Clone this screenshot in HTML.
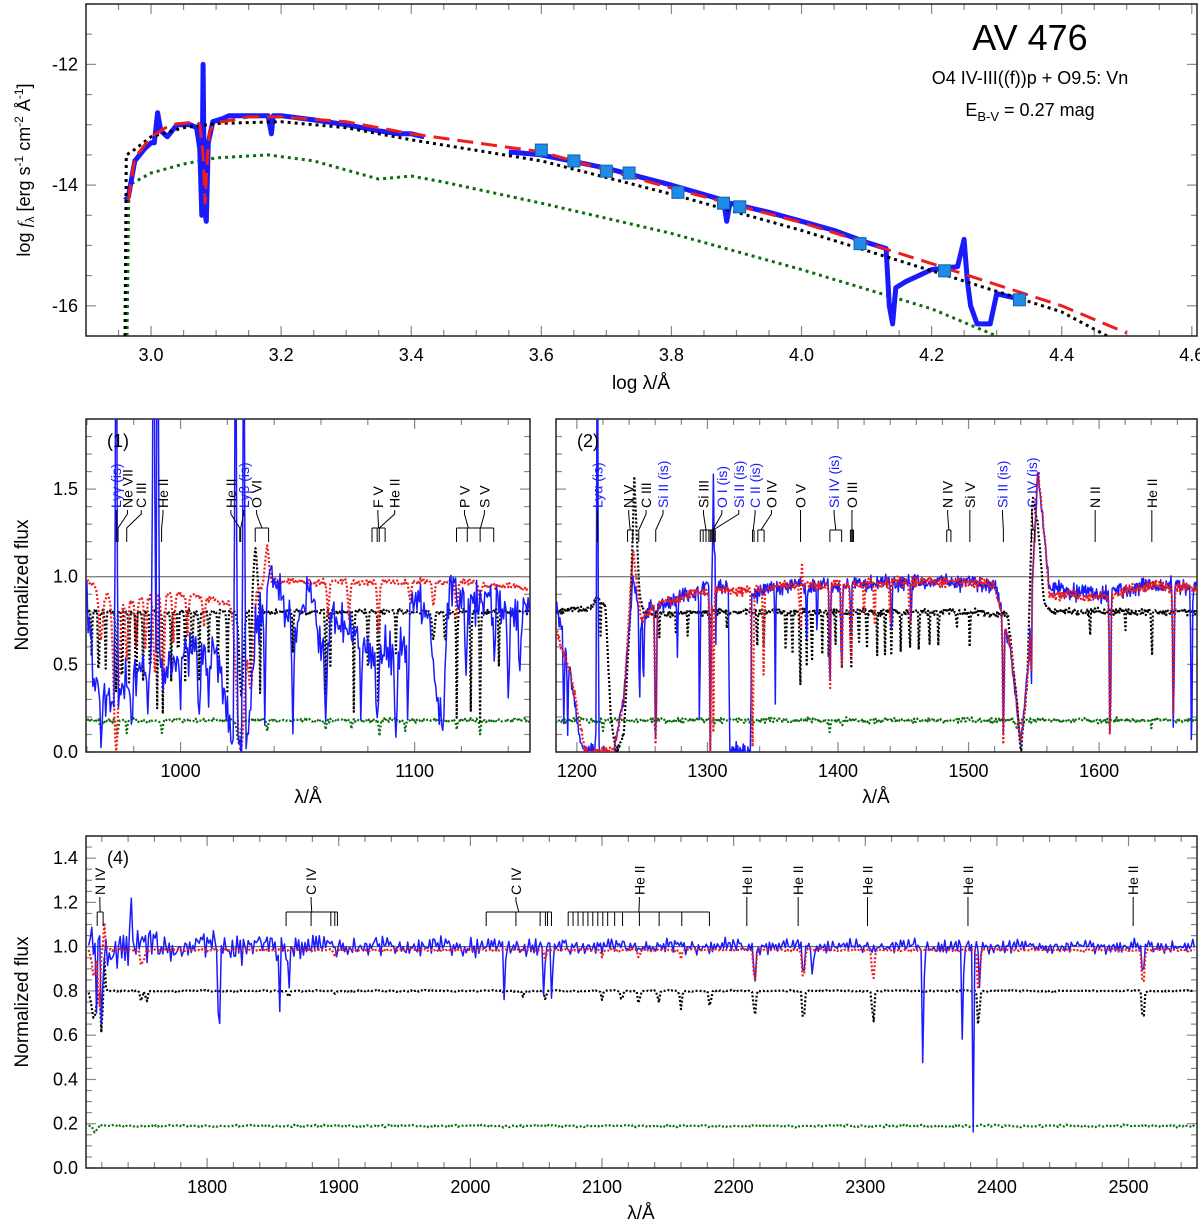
<!DOCTYPE html>
<html><head><meta charset="utf-8"><style>
html,body{margin:0;padding:0;background:#fff;}
svg{display:block;font-family:"Liberation Sans",sans-serif;}
</style></head><body>
<svg id="fig" width="1200" height="1225" viewBox="0 0 1200 1225" xmlns="http://www.w3.org/2000/svg">
<defs>
<clipPath id="c0"><rect x="86" y="4" width="1111" height="332"/></clipPath>
<clipPath id="c1"><rect x="86" y="419" width="444" height="333"/></clipPath>
<clipPath id="c2"><rect x="556" y="419" width="641" height="333"/></clipPath>
<clipPath id="c4"><rect x="86" y="836" width="1111" height="332"/></clipPath>
</defs>
<g id="plotroot"></g>
<text x="1030" y="50" font-size="36" text-anchor="middle">AV 476</text>
<text x="1030" y="84" font-size="18" text-anchor="middle">O4 IV-III((f))p + O9.5: Vn</text>
<text x="1030" y="116" font-size="18" text-anchor="middle">E<tspan font-size="13" dy="5">B-V</tspan><tspan dy="-5"> = 0.27 mag</tspan></text>
<text transform="translate(30,170) rotate(-90)" font-size="18" text-anchor="middle">log <tspan font-style="italic" font-family="Liberation Serif">f</tspan><tspan font-size="12" dy="4">λ</tspan><tspan dy="-4"> [erg s</tspan><tspan font-size="12" dy="-7">-1</tspan><tspan dy="7"> cm</tspan><tspan font-size="12" dy="-7">-2</tspan><tspan dy="7"> Å</tspan><tspan font-size="12" dy="-7">-1</tspan><tspan dy="7">]</tspan></text>
<text x="641" y="389" font-size="19" text-anchor="middle">log λ/Å</text>
<text transform="translate(28,585) rotate(-90)" font-size="19" text-anchor="middle">Normalized flux</text>
<text x="308" y="803" font-size="19" text-anchor="middle">λ/Å</text>
<text x="876" y="803" font-size="19" text-anchor="middle">λ/Å</text>
<text transform="translate(28,1002) rotate(-90)" font-size="19" text-anchor="middle">Normalized flux</text>
<text x="641" y="1219" font-size="19" text-anchor="middle">λ/Å</text>
<text x="107" y="447" font-size="18">(1)</text>
<text x="577" y="447" font-size="18">(2)</text>
<text x="107" y="864" font-size="18">(4)</text>
</svg>
<script>
// ---------- SED panel data ----------
var sedObsUV_x=[2.96,2.965,2.975,2.99,3.0,3.005,3.01,3.015,3.025,3.04,3.06,3.07,3.075,3.078,3.08,3.082,3.085,3.088,3.095,3.11,3.12,3.15,3.18,3.185,3.188,3.2,3.25,3.3,3.35,3.38,3.4,3.42];
var sedObsUV_y=[-14.25,-14.2,-13.6,-13.4,-13.3,-13.3,-12.8,-13.1,-13.2,-13.0,-13.0,-13.05,-13.4,-14.5,-12.0,-14.4,-14.6,-13.3,-12.95,-12.9,-12.85,-12.85,-12.85,-13.15,-12.85,-12.85,-12.92,-13.0,-13.1,-13.15,-13.15,-13.2];
var sedObsOpt_x=[3.55,3.6,3.7,3.8,3.88,3.885,3.89,3.95,4.0,4.05,4.1,4.13,4.135,4.14,4.145,4.16,4.2,4.24,4.25,4.255,4.26,4.27,4.29,4.3,4.32,4.345];
var sedObsOpt_y=[-13.45,-13.5,-13.72,-14.0,-14.25,-14.6,-14.3,-14.45,-14.6,-14.75,-14.95,-15.05,-16.0,-16.3,-15.7,-15.6,-15.4,-15.35,-14.9,-15.6,-16.0,-16.3,-16.3,-15.8,-15.85,-15.9];
var sedModel_x=[2.965,2.975,3.0,3.03,3.07,3.075,3.08,3.083,3.087,3.09,3.1,3.15,3.2,3.3,3.4,3.6,3.8,4.0,4.2,4.4,4.5];
var sedModel_y=[-14.25,-13.55,-13.2,-13.0,-12.95,-13.0,-13.5,-14.3,-13.5,-13.1,-12.97,-12.87,-12.87,-12.95,-13.15,-13.45,-14.05,-14.62,-15.3,-16.0,-16.45];
var sedPrim_x=[2.96,2.962,2.97,3.0,3.05,3.1,3.2,3.3,3.4,3.6,3.8,4.0,4.2,4.4,4.47];
var sedPrim_y=[-16.5,-13.5,-13.45,-13.2,-13.05,-12.98,-12.95,-13.05,-13.25,-13.6,-14.15,-14.75,-15.42,-16.1,-16.5];
var sedSec_x=[2.963,2.966,3.0,3.05,3.1,3.18,3.25,3.3,3.35,3.4,3.45,3.6,3.8,4.0,4.2,4.3];
var sedSec_y=[-16.5,-14.0,-13.8,-13.65,-13.55,-13.5,-13.6,-13.75,-13.9,-13.85,-13.95,-14.3,-14.8,-15.4,-16.05,-16.5];
var photX=[3.60,3.65,3.70,3.735,3.81,3.88,3.905,4.09,4.22,4.335];
var photY=[-13.42,-13.6,-13.77,-13.8,-14.12,-14.3,-14.36,-14.97,-15.42,-15.9];

// ---------- shared noise patterns ----------
var noisePattern=[0.3,-0.8,0.5,-0.2,0.9,-0.6,0.1,-0.9,0.7,-0.4,0.2,0.6,-0.7,0.4,-0.1,0.8,-0.5,0.0,-0.3,0.6,-0.9,0.5,0.2,-0.6,0.9,-0.2,0.3,-0.8,0.7,-0.4,0.1,0.5,-0.7,0.8,-0.1,-0.5,0.4,-0.3,0.6,-0.9,0.2,0.7,-0.6,0.3,-0.2,0.9,-0.8,0.1,0.5,-0.4,0.6,-0.1,-0.7,0.8,-0.3,0.4,-0.5,0.2,0.0,-0.6];
var noisePattern2=[0.5,0.1,-0.4,-0.7,0.2,0.8,-0.1,-0.5,0.6,0.3,-0.9,0.0,0.4,-0.3,0.7,-0.6,-0.2,0.9,0.1,-0.8,0.3,0.5,-0.4,0.2,-0.1,0.6,-0.7,1.0,-0.3,-0.5,0.4,0.0,-0.2,0.7,-0.9,0.2,0.3];

// ---------- Panel 1 ----------
var p1BlueCont=[[960,0.9],[963,0.4],[968,0.25],[975,0.4],[985,0.45],[995,0.5],[1005,0.55],[1015,0.6],[1019,0.3],[1022,0.0],[1028,0.0],[1032,0.7],[1038,1.0],[1045,0.8],[1050,0.75],[1055,0.95],[1060,0.55],[1065,0.8],[1072,0.7],[1080,0.55],[1088,0.6],[1095,0.55],[1100,0.9],[1106,0.8],[1110,0.25],[1115,0.9],[1130,0.85],[1145,0.8],[1150,0.85]];
var p1BlueLines=[[966,0.8,0.7],[979,0.6,0.6],[986,0.5,0.6],[1000,0.4,0.5],[1008,0.6,0.6],[1012,0.5,0.5],[1036,0.8,0.5],[1048,0.7,0.6],[1062,0.9,0.6],[1077,0.7,0.5],[1084,0.8,0.6],[1092,0.9,0.7],[1097,0.8,0.5],[1112,0.9,1.0],[1122,0.5,0.5],[1134,0.5,0.5],[1140,0.6,0.5],[1145,0.5,0.5]];
var p1BlueEmis=[[972.5,3,0.4],[988.5,3,0.5],[990.2,3,0.4],[1023.5,3,0.5],[1027.0,3,0.5]];
var p1RedCont=[[960,0.98],[975,0.85],[990,0.9],[1005,0.9],[1018,0.85],[1040,0.97],[1080,0.97],[1120,0.97],[1150,0.93]];
var p1RedLines=[[966,0.3,1.2],[972.5,1.0,1.5],[977,0.4,0.7],[981,0.3,0.6],[985,0.35,0.6],[989,0.5,0.8],[992.5,0.6,0.8],[997,0.3,0.6],[1003,0.25,0.6],[1010,0.2,0.6],[1025.7,1.0,2.5],[1030,0.6,1.5],[1063,0.2,0.6],[1072,0.2,0.6],[1084.5,0.3,0.6],[1098,0.1,0.6],[1108,0.15,0.6],[1118,0.2,0.6],[1128,0.1,0.6]];
var p1RedEmis=[[1037,0.22,1.2]];
var p1BlackLines=[[962,0.3,0.3],[965,0.6,0.3],[968,0.4,0.3],[972.5,0.6,0.4],[975,0.7,0.3],[978,0.5,0.3],[981,0.7,0.3],[984,0.5,0.3],[987,0.6,0.3],[990,0.7,0.3],[992.5,0.8,0.3],[996,0.5,0.3],[999,0.4,0.3],[1002,0.5,0.3],[1005,0.4,0.3],[1008,0.5,0.3],[1012,0.3,0.3],[1016,0.4,0.3],[1020,0.6,0.3],[1026,0.6,1.2],[1030,0.5,0.4],[1034,0.6,0.3],[1048,0.3,0.3],[1062,0.6,0.3],[1064,0.4,0.3],[1074,0.7,0.3],[1080,0.4,0.3],[1084.5,0.7,0.3],[1092,0.3,0.3],[1108,0.2,0.8],[1113,0.3,0.3],[1118,0.75,0.3],[1124,0.7,0.3],[1128,0.8,0.3],[1136,0.4,0.3]];
var p1BlackEmis=[[1032,0.35,1.2]];
var p1GreenLines=[[966,0.3,0.5],[973,0.5,0.5],[977,0.4,0.4],[992,0.4,0.5],[1025,0.8,1.0],[1037,0.3,0.5],[1062,0.3,0.4],[1073,0.3,0.4],[1085,0.5,0.4],[1096,0.3,0.4],[1118,0.3,0.4],[1128,0.5,0.4]];

// ---------- Panel 2 ----------
var p2BlueCont=[[1184,0.85],[1195,0.45],[1203,0.05],[1208,0.0],[1228,0.0],[1236,0.3],[1243,1.0],[1250,0.75],[1258,0.83],[1280,0.88],[1300,0.95],[1316,0.95],[1317,0.0],[1333,0.0],[1334,0.9],[1360,0.95],[1400,0.95],[1450,0.97],[1500,0.97],[1520,0.95],[1532,0.6],[1540,0.05],[1546,0.5],[1553,1.6],[1556,1.4],[1562,0.93],[1600,0.9],[1640,0.95],[1660,0.95],[1675,0.95]];
var p2BlueLines=[[1190,0.8,0.6],[1193,0.8,0.6],[1248,0.7,0.6],[1251,0.5,0.6],[1260.4,1.0,0.8],[1277,0.4,0.5],[1294,0.9,0.5],[1302.2,1.0,0.6],[1306,0.8,0.5],[1352,0.7,0.4],[1376,0.3,0.6],[1384,0.3,0.5],[1393.8,0.7,0.6],[1402.8,0.55,0.6],[1410,0.3,0.6],[1441,0.3,0.6],[1456,0.3,0.5],[1526.7,0.9,0.7],[1548,0.7,0.4],[1608.4,0.95,0.7],[1656.9,0.9,0.7],[1670.8,1.0,0.7]];
var p2BlueEmis=[[1215.7,3,0.6],[1304.5,0.6,0.6],[1305.8,0.8,0.4]];
var p2RedCont=[[1184,0.7],[1195,0.45],[1205,0.05],[1208,0.0],[1228,0.0],[1236,0.3],[1243,1.15],[1249,0.75],[1258,0.83],[1280,0.88],[1300,0.92],[1333,0.92],[1360,0.95],[1400,0.95],[1450,0.97],[1500,0.97],[1520,0.95],[1532,0.6],[1540,0.05],[1546,0.5],[1553,1.6],[1556,1.4],[1562,0.9],[1600,0.88],[1640,0.95],[1675,0.93]];
var p2RedLines=[[1260.4,1.0,0.8],[1302.2,1.0,0.7],[1304.5,0.9,0.6],[1334.5,1.0,0.9],[1343,0.5,0.6],[1371.3,0.3,0.8],[1393.8,0.7,0.6],[1402.8,0.55,0.6],[1410,0.45,0.8],[1420,0.2,0.6],[1428,0.25,0.6],[1440,0.25,0.6],[1455,0.25,0.6],[1526.7,0.95,0.7],[1548,0.6,0.4],[1608.4,0.95,0.7],[1656.9,0.8,0.7]];
var p2RedEmis=[[1372,0.25,0.6]];
var p2BlackCont=[[1184,0.8],[1210,0.82],[1216,0.88],[1222,0.82],[1226,0.2],[1230,0.0],[1236,0.1],[1241,0.8],[1244,1.55],[1248,0.9],[1252,0.78],[1300,0.8],[1400,0.8],[1500,0.8],[1530,0.78],[1537,0.3],[1540,0.0],[1545,0.4],[1549,1.45],[1553,1.3],[1558,0.85],[1564,0.8],[1675,0.8]];
var p2BlackLines=[[1218,0.3,0.4],[1263,0.2,0.4],[1276,0.15,0.4],[1285,0.2,0.4],[1302,0.15,0.5],[1315,0.15,0.4],[1338,0.3,0.4],[1343,0.25,0.4],[1360,0.35,0.4],[1365,0.4,0.4],[1371,0.6,0.5],[1376,0.4,0.4],[1380,0.45,0.4],[1388,0.3,0.4],[1393,0.4,0.4],[1398,0.3,0.4],[1403,0.4,0.4],[1410,0.5,0.4],[1416,0.3,0.4],[1422,0.35,0.4],[1430,0.3,0.4],[1436,0.3,0.4],[1441,0.4,0.4],[1448,0.3,0.4],[1455,0.35,0.4],[1462,0.35,0.4],[1470,0.3,0.4],[1477,0.3,0.4],[1491,0.15,0.4],[1501,0.3,0.4],[1593,0.2,0.4],[1620,0.15,0.4],[1640.4,0.35,0.5]];
var p2GreenLines=[[1220,0.3,0.6],[1260,0.3,0.4],[1393.8,0.4,0.5],[1402.8,0.3,0.5],[1537,0.3,0.8],[1640,0.2,0.5]];

// ---------- Panel 4 ----------
var p4BlueLines=[[1716,0.3,0.8],[1720,0.5,0.8],[1725,0.15,0.8],[1809,0.65,0.7],[1855,0.3,0.7],[1862,0.22,0.7],[2026,0.35,0.7],[2056,0.3,0.7],[2062,0.35,0.7],[2216,0.2,0.8],[2253,0.15,0.8],[2260,0.15,0.8],[2344,0.83,0.6],[2374,0.7,0.6],[2382,0.86,0.6],[2387,0.2,0.6],[2511,0.2,0.8]];
var p4BlueEmis=[[1742,0.35,0.6],[1719,0.1,1.0]];
var p4BlueNoise=[[1708,0.09],[1800,0.08],[1900,0.05],[2100,0.035],[2552,0.03]];
var p4RedLines=[[1714,0.12,2],[1718,0.3,1.0],[1750,0.08,1.0],[1752,0.05,1.0],[1897,0.03,1.0],[2057,0.04,1.0],[2100,0.03,1.0],[2128,0.04,1.0],[2160,0.04,1.0],[2216,0.16,1.2],[2253,0.15,1.2],[2306,0.15,1.2],[2386,0.2,1.2],[2511,0.18,1.2]];
var p4RedEmis=[[1722,0.12,0.8]];
var p4BlackLines=[[1714,0.15,2.5],[1720,0.3,0.8],[1750,0.07,1.0],[1754,0.07,1.0],[1862,0.04,1.0],[1897,0.02,1.0],[2040,0.03,1.0],[2057,0.05,1.0],[2100,0.05,1.0],[2115,0.06,1.0],[2128,0.08,1.0],[2143,0.07,1.0],[2160,0.1,1.0],[2182,0.1,1.0],[2216,0.16,1.0],[2253,0.2,1.0],[2306,0.2,1.0],[2386,0.22,1.0],[2511,0.2,1.0]];
var p4BlackEmis=[[1722,0.15,0.8]];
var p4GreenLines=[[1715,0.15,2]];

// ---------- line identifications ----------
var p1Ids=[["Lyγ (is)",972.5,[972.5],"#1a1aff"],["Ne VII",977.3,[973.3],"#000"],["C III",983.2,[977.0],"#000"],["He II",992.5,[991.9],"#000"],["He II",1021.5,[1025.3],"#000"],["Lyβ (is)",1027.0,[1025.7],"#1a1aff"],["O VI",1032.5,[1031.9,1037.6],"#000"],["F V",1084.3,[1081.8,1084.0,1087.4],"#000"],["He II",1091.5,[1084.9],"#000"],["P V",1121.3,[1117.9,1128.0],"#000"],["S V",1129.8,[1122.5,1133.8],"#000"]];
var p2Ids=[["Lyα (is)",1215.7,[1215.7],"#1a1aff"],["N V",1239.7,[1238.8,1242.8],"#000"],["C III",1253,[1247.4],"#000"],["Si II (is)",1266,[1260.4],"#1a1aff"],["Si III",1297,[1294.5,1296.7,1298.9,1301.1,1303.3],"#000"],["O I (is)",1311,[1302.2,1304.9,1306.0],"#1a1aff"],["Si II (is)",1324,[1304.4],"#1a1aff"],["C II (is)",1336.5,[1334.5,1335.7],"#1a1aff"],["O IV",1349,[1338.6,1343.4],"#000"],["O V",1371.3,[1371.3],"#000"],["Si IV (is)",1397,[1393.8,1402.8],"#1a1aff"],["O III",1410.7,[1409.5,1410.5,1411.0,1411.9],"#000"],["N IV",1484,[1483.3,1486.5],"#000"],["Si V",1501,[1501],"#000"],["Si II (is)",1526,[1526.7],"#1a1aff"],["C IV (is)",1548.5,[1548.2,1550.8],"#1a1aff"],["N II",1597,[1597],"#000"],["He II",1640.4,[1640.4],"#000"]];
var p4Ids=[["N IV",1718.5,[1716.5,1721],"#000"],["C IV",1879,[1860,1879,1894,1897,1899],"#000"],["C IV",2034.6,[2012,2034.6,2053,2057,2058.6,2061.6],"#000"],["He II",2128.4,[2074.3,2078,2081.8,2085.6,2089.3,2093,2096.8,2100.6,2104.3,2109.6,2115.6,2128.4,2143.4,2160.6,2181.6],"#000"],["He II",2210,[2210],"#000"],["He II",2249,[2249],"#000"],["He II",2301.7,[2301.7],"#000"],["He II",2378,[2378],"#000"],["He II",2503.5,[2503.5],"#000"]];

// ---------- rendering ----------
var SVGNS="http://www.w3.org/2000/svg";
var plotRoot=document.getElementById('plotroot');
function mk(tag,attrs,parent){var e=document.createElementNS(SVGNS,tag);for(var k in attrs){e.setAttribute(k,String(attrs[k]));}(parent||plotRoot).appendChild(e);return e;}
function makePanel(x0,x1,y0,y1,xmin,xmax,ymin,ymax){
  var P={x0:x0,x1:x1,y0:y0,y1:y1,xmin:xmin,xmax:xmax,ymin:ymin,ymax:ymax};
  P.sx=function(v){return x0+(v-xmin)/(xmax-xmin)*(x1-x0);};
  P.sy=function(v){return y1-(v-ymin)/(ymax-ymin)*(y1-y0);};
  return P;
}
var P0=makePanel(86,1197,4,336,2.9,4.608,-16.5,-11);
var P1=makePanel(86,530,419,752,959.6,1149.3,0,1.9);
var P2=makePanel(556,1197,419,752,1184,1675,0,1.9);
var P4=makePanel(86,1197,836,1168,1708,2552,0,1.5);

function interpK(knots,l){if(l<=knots[0][0])return knots[0][1];for(var i=1;i<knots.length;i++){if(l<=knots[i][0]){var a=knots[i-1],b=knots[i];return a[1]+(b[1]-a[1])*(l-a[0])/(b[0]-a[0]);}}return knots[knots.length-1][1];}
function spectrum(lmin,lmax,step,cont,lines,emis,namp,off){
  var xs=[],ys=[],i=0;
  for(var l=lmin;l<=lmax;l+=step,i++){
    var f=(typeof cont==='number')?cont:interpK(cont,l);
    for(var j=0;j<lines.length;j++){var c=lines[j][0],d=lines[j][1],w=lines[j][2];f*=1-d*Math.exp(-Math.pow((l-c)/w,2));}
    for(var k=0;k<emis.length;k++){var c2=emis[k][0],e2=emis[k][1],w2=emis[k][2];f+=e2*Math.exp(-Math.pow((l-c2)/w2,2));}
    var a=(typeof namp==='number')?namp:interpK(namp,l);
    f+=a*0.5*(noisePattern[(i+off)%noisePattern.length]+noisePattern2[(i*3+off)%noisePattern2.length])*1.3;
    xs.push(l);ys.push(f);
  }
  return [xs,ys];
}
function drawPath(P,xs,ys,style,clip,nm){
  var d='';
  for(var i=0;i<xs.length;i++){d+=(i?'L':'M')+P.sx(xs[i]).toFixed(1)+','+P.sy(ys[i]).toFixed(1);}
  var attrs={d:d,fill:'none','clip-path':'url(#'+clip+')','stroke-linejoin':'round'};
  for(var k in style){attrs[k]=style[k];}
  var e=mk('path',attrs);
  
  
  return e;
}
function drawAxes(P,xMajor,xMinor,yMajor,yMinor,xDec,yDec,showY,nm,gridY){
  var g=mk('g',{});
  
  
  if(gridY!==null){mk('line',{x1:P.x0,x2:P.x1,y1:P.sy(gridY),y2:P.sy(gridY),stroke:'#555','stroke-width':1},g);}
  var eps=1e-6,n,v,x,y,maj,L,t;
  var nx0=Math.ceil(P.xmin/xMinor-eps),nx1=Math.floor(P.xmax/xMinor+eps);
  for(n=nx0;n<=nx1;n++){v=n*xMinor;x=P.sx(v);maj=Math.abs(v/xMajor-Math.round(v/xMajor))<1e-4;L=maj?10:6;
    mk('line',{x1:x,x2:x,y1:P.y1,y2:P.y1-L,stroke:'#888','stroke-width':1.2},g);
    mk('line',{x1:x,x2:x,y1:P.y0,y2:P.y0+L,stroke:'#888','stroke-width':1.2},g);
    if(maj){t=mk('text',{x:x,y:P.y1+25,'font-size':18,'text-anchor':'middle'},g);t.textContent=v.toFixed(xDec);
      
      
    }}
  var ny0=Math.ceil(P.ymin/yMinor-eps),ny1=Math.floor(P.ymax/yMinor+eps);
  for(n=ny0;n<=ny1;n++){v=n*yMinor;y=P.sy(v);maj=Math.abs(v/yMajor-Math.round(v/yMajor))<1e-4;L=maj?10:6;
    mk('line',{x1:P.x0,x2:P.x0+L,y1:y,y2:y,stroke:'#888','stroke-width':1.2},g);
    mk('line',{x1:P.x1,x2:P.x1-L,y1:y,y2:y,stroke:'#888','stroke-width':1.2},g);
    if(maj&&showY){t=mk('text',{x:P.x0-8,y:y+6,'font-size':18,'text-anchor':'end'},g);t.textContent=v.toFixed(yDec);
      
      
    }}
  var r=mk('rect',{x:P.x0,y:P.y0,width:P.x1-P.x0,height:P.y1-P.y0,fill:'none',stroke:'#222','stroke-width':1.5});
  
  
}
function drawIds(P,list,lb,bar,tb,pname){
  for(var i=0;i<list.length;i++){
    var txt=list[i][0],ll=list[i][1],ticks=list[i][2],col=list[i][3];
    var g=mk('g',{});
    
    
    var lx=P.sx(ll);
    var t=mk('text',{transform:'translate('+(lx+5)+','+lb+') rotate(-90)','font-size':14,fill:col},g);t.textContent=txt;
    var txs=[],mn=1e9,mx=-1e9;
    for(var j=0;j<ticks.length;j++){var xx=P.sx(ticks[j]);txs.push(xx);if(xx<mn)mn=xx;if(xx>mx)mx=xx;}
    var mid=(mn+mx)/2;
    if(ticks.length>1){
      mk('line',{x1:mn,x2:mx,y1:bar,y2:bar,stroke:'#000','stroke-width':1},g);
      for(var q=0;q<txs.length;q++){mk('line',{x1:txs[q],x2:txs[q],y1:bar,y2:tb,stroke:'#000','stroke-width':1},g);}
      mk('polyline',{points:lx+','+(lb+2)+' '+lx+','+(lb+6)+' '+mid+','+bar,fill:'none',stroke:'#000','stroke-width':1},g);
    } else {
      mk('polyline',{points:lx+','+(lb+2)+' '+lx+','+(lb+6)+' '+mid+','+bar+' '+mid+','+tb,fill:'none',stroke:'#000','stroke-width':1},g);
    }
  }
}
var DOT_G={stroke:'#0a6e0a','stroke-width':2.2,'stroke-dasharray':'2,2'};
var DOT_K={stroke:'#000','stroke-width':2.2,'stroke-dasharray':'2,2'};
var DOT_R={stroke:'#ee1c1c','stroke-width':2.2,'stroke-dasharray':'2,2'};
var SOL_B={stroke:'#1a1aff','stroke-width':1.5};
var sp;

try{
drawAxes(P0,0.2,0.05,2,0.5,1,0,true,'sed-panel',null);
drawPath(P0,sedSec_x,sedSec_y,{stroke:'#0a6e0a','stroke-width':3,'stroke-dasharray':'3,4'},'c0','sed-secondary-model');
drawPath(P0,sedObsUV_x,sedObsUV_y,{stroke:'#1a1aff','stroke-width':5},'c0','sed-observed-uv');
drawPath(P0,sedObsOpt_x,sedObsOpt_y,{stroke:'#1a1aff','stroke-width':5},'c0','sed-observed-optical');
drawPath(P0,sedPrim_x,sedPrim_y,{stroke:'#000','stroke-width':3,'stroke-dasharray':'3,4'},'c0','sed-primary-model');
drawPath(P0,sedModel_x,sedModel_y,{stroke:'#ee1c1c','stroke-width':3,'stroke-dasharray':'16,8'},'c0','sed-total-model');
for(var pi=0;pi<photX.length;pi++){
  var pr=mk('rect',{x:P0.sx(photX[pi])-6,y:P0.sy(photY[pi])-6,width:12,height:12,fill:'#1e8ce6',stroke:'#1060b0','stroke-width':1});
  
  
}
}catch(err){console.log(err);}

try{
drawAxes(P1,100,20,0.5,0.1,0,1,true,'panel-1',1.0);
sp=spectrum(960,1149,0.5,0.18,p1GreenLines,[],0.012,5);drawPath(P1,sp[0],sp[1],DOT_G,'c1','panel1-secondary');
sp=spectrum(960,1149,0.4,0.8,p1BlackLines,p1BlackEmis,0.015,11);drawPath(P1,sp[0],sp[1],DOT_K,'c1','panel1-primary');
sp=spectrum(960,1149,0.5,p1RedCont,p1RedLines,p1RedEmis,0.02,23);drawPath(P1,sp[0],sp[1],DOT_R,'c1','panel1-model');
sp=spectrum(960,1149,0.5,p1BlueCont,p1BlueLines,p1BlueEmis,0.14,0);drawPath(P1,sp[0],sp[1],SOL_B,'c1','panel1-observed');
drawIds(P1,p1Ids,508,528,542,'panel1');
}catch(err){console.log(err);}

try{
drawAxes(P2,100,20,0.5,0.1,0,1,false,'panel-2',1.0);
sp=spectrum(1184,1675,0.8,0.18,p2GreenLines,[],0.015,7);drawPath(P2,sp[0],sp[1],DOT_G,'c2','panel2-secondary');
sp=spectrum(1184,1675,0.6,p2BlackCont,p2BlackLines,[],0.02,13);drawPath(P2,sp[0],sp[1],DOT_K,'c2','panel2-primary');
sp=spectrum(1184,1675,0.6,p2BlueCont,p2BlueLines,p2BlueEmis,0.05,3);drawPath(P2,sp[0],sp[1],SOL_B,'c2','panel2-observed');
sp=spectrum(1184,1675,0.6,p2RedCont,p2RedLines,p2RedEmis,0.03,29);drawPath(P2,sp[0],sp[1],DOT_R,'c2','panel2-model');
drawIds(P2,p2Ids,508,530,542,'panel2');
}catch(err){console.log(err);}

try{
drawAxes(P4,100,20,0.2,0.05,0,1,true,'panel-4',1.0);
sp=spectrum(1710,2550,1.5,0.19,p4GreenLines,[],0.006,9);drawPath(P4,sp[0],sp[1],DOT_G,'c4','panel4-secondary');
sp=spectrum(1710,2550,1.2,0.8,p4BlackLines,p4BlackEmis,0.004,17);drawPath(P4,sp[0],sp[1],DOT_K,'c4','panel4-primary');
sp=spectrum(1710,2550,1.2,1.0,p4BlueLines,p4BlueEmis,p4BlueNoise,2);drawPath(P4,sp[0],sp[1],SOL_B,'c4','panel4-observed');
sp=spectrum(1710,2550,1.2,0.985,p4RedLines,p4RedEmis,0.006,31);drawPath(P4,sp[0],sp[1],DOT_R,'c4','panel4-model');
drawIds(P4,p4Ids,895,912,926,'panel4');
}catch(err){console.log(err);}
</script>
</body></html>
